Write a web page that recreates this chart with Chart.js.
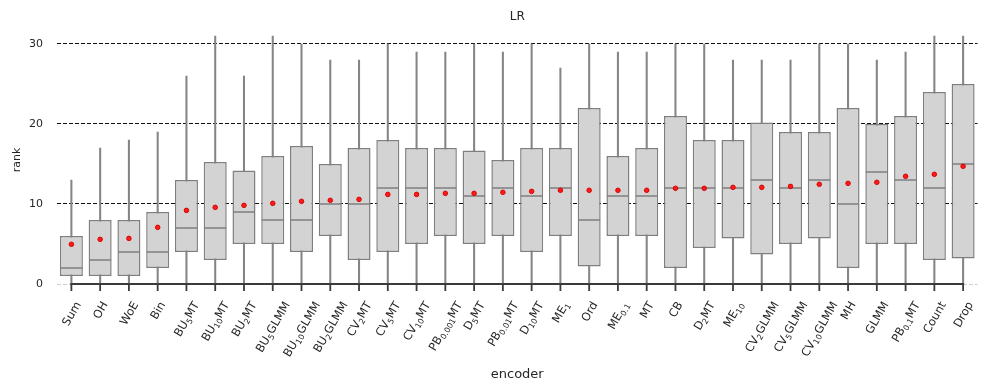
<!DOCTYPE html>
<html>
<head>
<meta charset="utf-8">
<script src="https://cdn.jsdelivr.net/npm/chart.js@4.4.1/dist/chart.umd.min.js"></script>
<style>
  html, body { margin: 0; padding: 0; background: #ffffff; }
  #c { display: block; }
</style>
</head>
<body>
<canvas id="c" width="990" height="391"></canvas>
<script>
// ---- data ----
const categories = ['Sum','OH','WoE','Bin','BU{5}MT','BU{10}MT','BU{2}MT','BU{5}GLMM','BU{10}GLMM','BU{2}GLMM',
  'CV{2}MT','CV{5}MT','CV{10}MT','PB{0.001}MT','D{5}MT','PB{0.01}MT','D{10}MT','ME{1}','Ord','ME{0.1}',
  'MT','CB','D{2}MT','ME{10}','CV{2}GLMM','CV{5}GLMM','CV{10}GLMM','MH','GLMM','PB{0.1}MT','Count','Drop'];
const whiskerLow  = [0,0,0,0,0,0,0,0,0,0,0,0,0,0,0,0,0,0,0,0,0,0,0,0,0,0,0,0,0,0,0,0];
const q1          = [1,1,1,2,4,3,5,5,4,6,3,4,5,6,5,6,4,6,2.2,6,6,2,4.5,5.7,3.7,5,5.7,2,5,5,3,3.2];
const medians     = [2,3,4,4,7,7,9,8,8,10,10,12,12,12,11,12,11,12,8,11,11,12,12,12,13,12,13,10,14,13,12,15];
const q3          = [6,8,8,9,13,15.25,14.2,16,17.25,15,17,18,17,17,16.7,15.5,17,17,22,16,17,21,18,18,20.2,19,19,22,20,21,24,25];
const whiskerHigh = [13,17,18,19,26,31,26,31,30,28,28,30,29,29,30,29,30,27,30,29,29,30,30,28,28,28,30,30,28,29,31,31];
const means       = [4.96,5.58,5.7,7.08,9.2,9.58,9.83,10.08,10.33,10.46,10.58,11.2,11.2,11.33,11.33,11.46,11.58,11.71,11.71,11.71,11.71,11.96,11.96,12.08,12.08,12.2,12.46,12.58,12.71,13.46,13.71,14.71];
const yTicks = [0, 10, 20, 30];
const chartTitle = 'LR';
const xTitle = 'encoder';
const yTitle = 'rank';

const FONT = "'DejaVu Sans', sans-serif";
const TEXT = '#262626';
const EDGE = '#7f7f7f';

function parseLabel(s) {
  const parts = [];
  const re = /\{([^}]*)\}/g;
  let last = 0, m;
  while ((m = re.exec(s)) !== null) {
    if (m.index > last) parts.push({ t: s.slice(last, m.index), sub: false });
    parts.push({ t: m[1], sub: true });
    last = re.lastIndex;
  }
  if (last < s.length) parts.push({ t: s.slice(last), sub: false });
  return parts;
}

const decor = {
  id: 'decor',
  afterDraw(chart) {
    const ctx = chart.ctx;
    const xs = chart.scales.x, ys = chart.scales.y;
    const y0 = ys.getPixelForValue(0);
    const xFirst = xs.getPixelForTick(0);
    const xLast = xs.getPixelForTick(categories.length - 1);
    ctx.save();
    // trimmed bottom spine
    ctx.strokeStyle = '#3a3a3a';
    ctx.lineWidth = 2;
    ctx.beginPath();
    ctx.moveTo(xFirst - 1, y0);
    ctx.lineTo(xLast + 1, y0);
    ctx.stroke();
    // tick marks
    ctx.lineWidth = 1.8;
    for (let i = 0; i < categories.length; i++) {
      const x = xs.getPixelForTick(i);
      ctx.beginPath();
      ctx.moveTo(x, y0);
      ctx.lineTo(x, y0 + 7);
      ctx.stroke();
    }
    // rotated tick labels with subscripts
    const fs = 11.5, sfs = 8;
    const ang = Math.PI / 3;
    const H = fs * 1.17;
    const top = y0 + 15;
    ctx.fillStyle = TEXT;
    ctx.textBaseline = 'alphabetic';
    ctx.textAlign = 'left';
    for (let i = 0; i < categories.length; i++) {
      const parts = parseLabel(categories[i]);
      let W = 0;
      for (const p of parts) {
        ctx.font = (p.sub ? sfs : fs) + 'px ' + FONT;
        p.w = ctx.measureText(p.t).width;
        W += p.w;
      }
      const bh = W * Math.sin(ang) + H * Math.cos(ang);
      const cx = xs.getPixelForTick(i);
      const cy = top + bh / 2;
      ctx.save();
      ctx.translate(cx, cy);
      ctx.rotate(-ang);
      let x = -W / 2;
      const base = 0.345 * fs;
      for (const p of parts) {
        ctx.font = (p.sub ? sfs : fs) + 'px ' + FONT;
        ctx.fillText(p.t, x, p.sub ? base + 0.22 * fs : base);
        x += p.w;
      }
      ctx.restore();
    }
    // titles
    const cxArea = (chart.chartArea.left + chart.chartArea.right) / 2;
    ctx.textAlign = 'center';
    ctx.font = '12px ' + FONT;
    ctx.fillText(chartTitle, cxArea, 20);
    ctx.font = '13px ' + FONT;
    ctx.fillText(xTitle, cxArea, 378);
    ctx.save();
    ctx.translate(19.5, 160);
    ctx.rotate(-Math.PI / 2);
    ctx.font = '11px ' + FONT;
    ctx.fillText(yTitle, 0, 0);
    ctx.restore();
    ctx.restore();
  }
};

const boxData = q1.map((v, i) => [v, q3[i]]);
const whiskerData = whiskerLow.map((v, i) => [v, whiskerHigh[i]]);

new Chart(document.getElementById('c'), {
  type: 'bar',
  data: {
    labels: categories,
    datasets: [
      {
        type: 'bar', label: 'whisker', data: whiskerData, grouped: false, order: 4,
        barThickness: 1.4, backgroundColor: '#858585', borderWidth: 0
      },
      {
        type: 'bar', label: 'box', data: boxData, grouped: false, order: 3,
        barPercentage: 0.8, categoryPercentage: 1.0,
        backgroundColor: '#d3d3d3', borderColor: EDGE, borderWidth: 1.5, borderSkipped: false
      },
      {
        type: 'line', label: 'median', data: medians, order: 2, showLine: false,
        pointStyle: 'line', pointRadius: 11.0, pointHoverRadius: 11.0,
        borderColor: EDGE, pointBorderColor: EDGE, pointBorderWidth: 1.5, borderWidth: 1.5
      },
      {
        type: 'line', label: 'mean', data: means, order: 1, showLine: false,
        pointStyle: 'circle', pointRadius: 2.3, pointHoverRadius: 2.3,
        pointBackgroundColor: '#ff1a1a', pointBorderColor: '#d00000', pointBorderWidth: 0.9
      }
    ]
  },
  options: {
    responsive: false,
    animation: false,
    events: [],
    layout: { padding: { top: 23.6, right: 10, left: 0, bottom: 0 } },
    plugins: { legend: { display: false }, title: { display: false }, tooltip: { enabled: false } },
    scales: {
      x: {
        type: 'category',
        offset: true,
        grid: { display: false },
        border: { display: false },
        ticks: { display: false },
        afterFit: (s) => { s.height = 391 - 296.4; }
      },
      y: {
        min: -1.55, max: 32.55,
        afterBuildTicks: (s) => { s.ticks = yTicks.map(v => ({ value: v })); },
        afterFit: (s) => { s.width = 57; },
        border: { display: false, dash: [4, 2] },
        grid: {
          drawTicks: false,
          lineWidth: 1,
          color: (c) => (c.tick && c.tick.value === 0) ? '#cfcfcf' : '#111111'
        },
        ticks: { padding: 14, color: TEXT, font: { family: FONT, size: 11 } }
      }
    }
  },
  plugins: [decor]
});
</script>
</body>
</html>
